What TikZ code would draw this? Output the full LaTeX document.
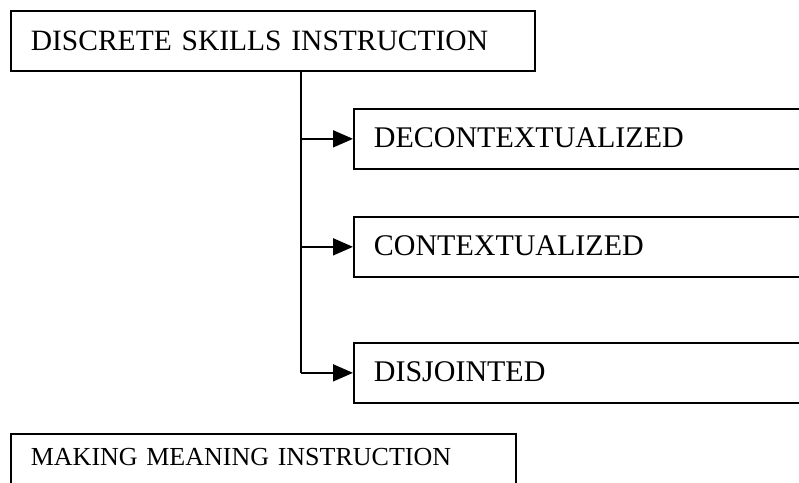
\documentclass[tikz,border=0pt]{standalone}
\usepackage{fontspec}
\setmainfont{Liberation Serif}
\usetikzlibrary{arrows.meta}
\begin{document}
\begin{tikzpicture}[x=1pt,y=-1pt,
  boxnode/.style={draw=black, line width=1.7pt, anchor=north west, align=left,
    inner xsep=20pt, inner ysep=0pt, minimum height=60pt,
    font=\fontsize{30}{36}\selectfont, text height=20pt, text depth=3pt},
  arr/.style={line width=1.7pt, -{Triangle[length=20pt,width=17pt]}},
  trunkline/.style={line width=1.7pt}]
\useasboundingbox (0,0) rectangle (799,482);
\clip (0,0) rectangle (799,482);
\node[boxnode, text width=484pt, text depth=0pt, font=\fontsize{29.5}{36}\selectfont] (top) at (10,10) {DISCRETE SKILLS INSTRUCTION};
\node[boxnode, text width=480pt] (c1) at (353,108) {DECONTEXTUALIZED};
\node[boxnode, text width=480pt] (c2) at (353,216) {CONTEXTUALIZED};
\node[boxnode, text width=480pt] (c3) at (353,342) {DISJOINTED};
\node[boxnode, text width=465pt, font=\fontsize{26}{32}\selectfont, text height=17pt, text depth=13pt] (bottom) at (10,433) {MAKING MEANING INSTRUCTION};
\coordinate (j) at ([xshift=28pt]top.south);
\draw[trunkline] (j) -- (j |- c3.west);
\draw[arr] (j |- c1.west) -- (c1.west);
\draw[arr] (j |- c2.west) -- (c2.west);
\draw[arr] (j |- c3.west) -- (c3.west);
\end{tikzpicture}
\end{document}
